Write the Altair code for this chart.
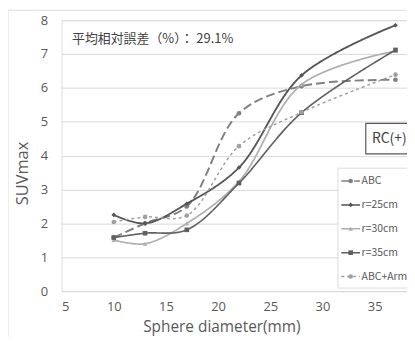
import altair as alt
import pandas as pd

diam = [10, 13, 17, 22, 28, 37]
series_names = ["ABC", "r=25cm", "r=30cm", "r=35cm", "ABC+Arm"]
abc = [1.58, 2.0, 2.5, 5.25, 6.05, 6.24]
r25 = [2.25, 2.0, 2.58, 3.65, 6.37, 7.85]
r30 = [1.51, 1.40, 2.0, 3.24, 6.1, 7.09]
r35 = [1.58, 1.71, 1.81, 3.19, 5.27, 7.12]
abc_arm = [2.04, 2.19, 2.23, 4.28, 5.28, 6.39]

colors = ["#808080", "#555555", "#b0b0b0", "#606060", "#a0a0a0"]
dashes = [[9, 4], [1, 0], [1, 0], [1, 0], [3, 3]]
shapes = ["circle", "diamond", "triangle-up", "square", "circle"]
widths = [2.0, 1.5, 1.5, 1.5, 1.6]

rows = []
for name, vals in zip(series_names, [abc, r25, r30, r35, abc_arm]):
    for d, v in zip(diam, vals):
        rows.append({"d": d, "v": v, "s": name})
df = pd.DataFrame(rows)

# manual legend entries (in data space)
leg = pd.DataFrame({
    "s": series_names,
    "y": [3.25 - 0.705 * i for i in range(len(series_names))],
})
leg["x0"] = 31.8
leg["x1"] = 33.6
leg["xm"] = 32.7
leg["xt"] = 33.75

xs = alt.Scale(domain=[5, 38.1], nice=False, zero=False)
ys = alt.Scale(domain=[0, 8], nice=False)
cs = alt.Scale(domain=series_names, range=colors)
ds = alt.Scale(domain=series_names, range=dashes)
ss = alt.Scale(domain=series_names, range=shapes)

xaxis = alt.Axis(values=[5, 10, 15, 20, 25, 30, 35], grid=False, domain=False, ticks=False,
                 labelPadding=10, labelFontSize=13, labelColor="#595959", labelFont="Open Sans",
                 title="Sphere diameter(mm)", titleFontSize=15.5, titleFont="Open Sans",
                 titleFontWeight="normal", titleColor="#595959",
                 titleX=161, titleY=41, titleAlign="center", titleBaseline="alphabetic")
yaxis = alt.Axis(values=list(range(0, 9)), grid=True, gridColor="#d9d9d9", domain=False, ticks=False,
                 labelOverlap=False,
                 labelPadding=14, labelFontSize=13, labelColor="#595959", labelFont="Open Sans",
                 title="SUVmax", titleFontSize=16.5, titleFont="Open Sans",
                 titleFontWeight="normal", titleColor="#595959",
                 titleX=-39, titleY=154, titleAlign="center", titleBaseline="middle")

xenc = alt.X("d:Q", scale=xs, axis=xaxis)
yenc = alt.Y("v:Q", scale=ys, axis=yaxis)

lines = alt.Chart(df).mark_line(interpolate="catmull-rom").encode(
    x=xenc, y=yenc,
    color=alt.Color("s:N", scale=cs, legend=None),
    strokeDash=alt.StrokeDash("s:N", scale=ds, legend=None),
    strokeWidth=alt.StrokeWidth("s:N", scale=alt.Scale(domain=series_names, range=widths), legend=None),
    order=alt.Order("d:Q"))
points = alt.Chart(df).mark_point(filled=True, size=22, opacity=1).encode(
    x=xenc, y=yenc,
    color=alt.Color("s:N", scale=cs, legend=None),
    shape=alt.Shape("s:N", scale=ss, legend=None))

note = alt.Chart(pd.DataFrame({"x": [6.0], "y": [7.45], "t": ["平均相対誤差（%）： 29.1%"]})).mark_text(
    align="left", baseline="middle", fontSize=13, font="Noto Sans CJK JP", color="#404040").encode(
    x=alt.X("x:Q", scale=xs, axis=xaxis), y=alt.Y("y:Q", scale=ys, axis=yaxis), text="t:N")

rc_box = alt.Chart(pd.DataFrame({"x": [34.15], "x2": [40.5], "y": [4.95], "y2": [4.05]})).mark_rect(
    fill="white", stroke="#595959", strokeWidth=1.2, clip=False).encode(
    x=alt.X("x:Q", scale=xs, axis=xaxis), x2="x2:Q", y=alt.Y("y:Q", scale=ys, axis=yaxis), y2="y2:Q")
rc_text = alt.Chart(pd.DataFrame({"x": [36.4], "y": [4.5], "t": ["RC(+)"]})).mark_text(
    align="center", baseline="middle", fontSize=14, font="Noto Sans CJK JP", color="#404040").encode(
    x=alt.X("x:Q", scale=xs, axis=xaxis), y=alt.Y("y:Q", scale=ys, axis=yaxis), text="t:N")

leg_box = alt.Chart(pd.DataFrame({"x": [31.48], "x2": [40.5], "y": [3.63], "y2": [0.09]})).mark_rect(
    fill="white", stroke="#dcdcdc", strokeWidth=1, clip=False).encode(
    x=alt.X("x:Q", scale=xs, axis=xaxis), x2="x2:Q", y=alt.Y("y:Q", scale=ys, axis=yaxis), y2="y2:Q")
leg_lines = alt.Chart(leg).mark_rule(strokeWidth=1.5).encode(
    x=alt.X("x0:Q", scale=xs, axis=xaxis), x2="x1:Q", y=alt.Y("y:Q", scale=ys, axis=yaxis),
    color=alt.Color("s:N", scale=cs, legend=None),
    strokeDash=alt.StrokeDash("s:N", scale=ds, legend=None))
leg_pts = alt.Chart(leg).mark_point(filled=True, size=22, opacity=1).encode(
    x=alt.X("xm:Q", scale=xs, axis=xaxis), y=alt.Y("y:Q", scale=ys, axis=yaxis),
    color=alt.Color("s:N", scale=cs, legend=None),
    shape=alt.Shape("s:N", scale=ss, legend=None))
leg_txt = alt.Chart(leg).mark_text(align="left", baseline="middle", fontSize=10.5,
                                   font="Noto Sans CJK JP", color="#595959").encode(
    x=alt.X("xt:Q", scale=xs, axis=xaxis), y=alt.Y("y:Q", scale=ys, axis=yaxis), text="s:N")

border_l = alt.Chart(pd.DataFrame({"a": [0]})).mark_rule(color="#dddddd", strokeWidth=1).encode(
    x=alt.value(-54), y=alt.value(-10), y2=alt.value(400))
border_t = alt.Chart(pd.DataFrame({"a": [0]})).mark_rule(color="#dddddd", strokeWidth=1).encode(
    y=alt.value(-10), x=alt.value(-54), x2=alt.value(400))

chart = alt.layer(border_l, border_t, lines, points, note, rc_box, rc_text,
                  leg_box, leg_lines, leg_pts, leg_txt).properties(
    width=348, height=273,
    padding={"left": 54, "top": 11, "right": 0, "bottom": 45},
    autosize=alt.AutoSizeParams(type="none"),
).configure_view(stroke="#d9d9d9", strokeWidth=1).configure(background="white")

chart.save("out.html", embed_options={"renderer": "svg", "actions": False})
